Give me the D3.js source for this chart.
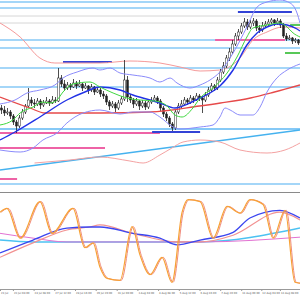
<!DOCTYPE html>
<html>
<head>
<meta charset="utf-8">
<script src="https://cdn.jsdelivr.net/npm/d3@7"></script>
<style>
  body { margin: 0; background: #fff; }
</style>
</head>
<body>
<div id="chart"></div>
<script>
// ---- price data: one row per candle [open, high, low, close] ----
const candles = [
  [1.1842,1.1845,1.1836,1.1840],[1.1840,1.1844,1.1834,1.1837],[1.1837,1.1842,1.1835,1.1838],[1.1838,1.1840,1.1831,1.1834],
  [1.1834,1.1836,1.1825,1.1828],[1.1828,1.1830,1.1817,1.1824],[1.1824,1.1835,1.1822,1.1832],[1.1832,1.1841,1.1830,1.1838],
  [1.1838,1.1846,1.1836,1.1844],[1.1844,1.1862,1.1842,1.1850],[1.1850,1.1853,1.1844,1.1847],[1.1847,1.1851,1.1842,1.1846],
  [1.1846,1.1852,1.1844,1.1849],[1.1849,1.1851,1.1841,1.1845],[1.1845,1.1850,1.1843,1.1847],[1.1847,1.1853,1.1846,1.1849],
  [1.1849,1.1851,1.1844,1.1847],[1.1847,1.1854,1.1846,1.1850],[1.1850,1.1853,1.1847,1.1849],[1.1849,1.1882,1.1848,1.1872],
  [1.1872,1.1875,1.1863,1.1866],[1.1866,1.1870,1.1859,1.1862],[1.1862,1.1868,1.1860,1.1865],[1.1865,1.1867,1.1860,1.1863],
  [1.1863,1.1871,1.1862,1.1867],[1.1867,1.1869,1.1861,1.1864],[1.1864,1.1870,1.1863,1.1866],[1.1866,1.1867,1.1859,1.1862],
  [1.1862,1.1867,1.1861,1.1864],[1.1864,1.1865,1.1856,1.1860],[1.1860,1.1866,1.1858,1.1863],[1.1863,1.1864,1.1855,1.1858],
  [1.1858,1.1863,1.1857,1.1860],[1.1860,1.1862,1.1853,1.1856],[1.1856,1.1859,1.1851,1.1854],[1.1854,1.1856,1.1845,1.1848],
  [1.1848,1.1850,1.1840,1.1844],[1.1844,1.1849,1.1842,1.1846],[1.1846,1.1848,1.1838,1.1842],[1.1842,1.1850,1.1840,1.1847],
  [1.1847,1.1854,1.1845,1.1851],[1.1851,1.1890,1.1849,1.1870],[1.1870,1.1874,1.1848,1.1853],[1.1853,1.1856,1.1847,1.1850],
  [1.1850,1.1852,1.1842,1.1846],[1.1846,1.1852,1.1844,1.1849],[1.1849,1.1850,1.1840,1.1844],[1.1844,1.1850,1.1842,1.1847],
  [1.1847,1.1849,1.1840,1.1843],[1.1843,1.1851,1.1841,1.1848],[1.1848,1.1853,1.1846,1.1850],[1.1850,1.1855,1.1848,1.1852],
  [1.1852,1.1854,1.1846,1.1849],[1.1849,1.1851,1.1839,1.1842],[1.1842,1.1844,1.1833,1.1836],[1.1836,1.1838,1.1829,1.1832],
  [1.1832,1.1834,1.1823,1.1826],[1.1826,1.1828,1.1819,1.1822],[1.1822,1.1840,1.1820,1.1838],[1.1838,1.1847,1.1836,1.1844],
  [1.1844,1.1850,1.1842,1.1846],[1.1846,1.1853,1.1844,1.1850],[1.1850,1.1852,1.1845,1.1848],[1.1848,1.1855,1.1846,1.1852],
  [1.1852,1.1854,1.1847,1.1850],[1.1850,1.1857,1.1849,1.1854],[1.1854,1.1856,1.1849,1.1852],[1.1852,1.1854,1.1837,1.1850],
  [1.1850,1.1858,1.1848,1.1855],[1.1855,1.1863,1.1853,1.1860],[1.1860,1.1867,1.1858,1.1864],[1.1864,1.1866,1.1859,1.1862],
  [1.1862,1.1873,1.1860,1.1870],[1.1870,1.1881,1.1868,1.1878],[1.1878,1.1888,1.1876,1.1884],[1.1884,1.1895,1.1882,1.1892],
  [1.1892,1.1902,1.1889,1.1898],[1.1898,1.1910,1.1896,1.1906],[1.1906,1.1917,1.1904,1.1914],[1.1914,1.1921,1.1910,1.1918],
  [1.1918,1.1927,1.1916,1.1924],[1.1924,1.1932,1.1922,1.1928],[1.1928,1.1931,1.1920,1.1923],[1.1923,1.1930,1.1921,1.1927],
  [1.1927,1.1932,1.1924,1.1929],[1.1929,1.1931,1.1919,1.1922],[1.1922,1.1925,1.1917,1.1920],[1.1920,1.1928,1.1918,1.1924],
  [1.1924,1.1929,1.1922,1.1926],[1.1926,1.1931,1.1923,1.1928],[1.1928,1.1932,1.1926,1.1930],[1.1930,1.1931,1.1924,1.1927],
  [1.1927,1.1932,1.1925,1.1929],[1.1929,1.1931,1.1922,1.1925],[1.1925,1.1927,1.1912,1.1914],[1.1914,1.1917,1.1909,1.1911],
  [1.1911,1.1915,1.1910,1.1912],[1.1912,1.1913,1.1906,1.1909],[1.1909,1.1912,1.1907,1.1910],[1.1910,1.1911,1.1905,1.1907]
];

// time axis labels and the candle index each one starts at
const timeLabels = ["21 Jul","23 Jul 04:00","24 Jul 08:00","27 Jul 12:00","28 Jul 16:00","29 Jul 20:00","31 Jul 00:00",
  "3 Aug 04:00","4 Aug 08:00","5 Aug 12:00","6 Aug 16:00","7 Aug 20:00","11 Aug 00:00","12 Aug 04:00","13 Aug 08:00"];
const labelIdx = [-0.5, 3.8, 10.7, 17.6, 24.5, 31.4, 38.4, 45.3, 52.2, 59.1, 66.0, 72.9, 79.9, 86.6, 92.8];

// horizontal price levels
const blueLevels = [1.1948, 1.1942, 1.1910, 1.1902, 1.1882, 1.1863, 1.1821, 1.1766];
const greyLevels = [1.1934, 1.1927];
// segments: [price, fromIndex, toIndex]
const pinkSegments = [[1.1910, 71.2, 94.5], [1.1817, -0.5, 52.8], [1.1802, -0.5, 34.5], [1.1771, -0.5, 5.2]];
const navySegments = [[1.1938, 78.8, 96.8], [1.1888, 20.5, 36.8], [1.1818, 50.2, 66.2]];
const greenSegments = [[1.1897, 94.5, 99.5], [1.1925, 96.2, 99.5]];

// indicator lines, [candleIndex, price]
const slowRed = [[-0.5,1.1927],[6.2,1.1913],[12.8,1.1892],[17.8,1.1887],[32.8,1.1887],[42.8,1.1889],[52.8,1.1887],
  [59.5,1.1883],[66.2,1.1879],[72.8,1.1880],[79.5,1.1892],[83.8,1.1910],[88.5,1.1918],[93.8,1.1923],[99.5,1.1922]];
const midRed = [[-0.5,1.1853],[9.5,1.1842],[14.5,1.1837],[33,1.1837],[49.5,1.1838],[66,1.1844],[73,1.1847],
  [83,1.1852],[91,1.1858],[99.5,1.1865]];
const lowRed = [[11,1.1787],[22.8,1.1790],[32.8,1.1793],[42.8,1.1789],[47.2,1.1787],[52.8,1.1795],[56.8,1.1802],
  [60.5,1.1808],[66.2,1.1810],[72.8,1.1808],[79.5,1.1800],[88.5,1.1797],[94.5,1.1800],[99.5,1.1807]];
const trendLine = [[-0.5,1.1780],[99.5,1.1820]];
const bandUpper = [[-0.5,1.1846],[4.5,1.1850],[8.5,1.1857],[12.8,1.1860],[17.8,1.1865],[20.5,1.1872],[25.2,1.1878],
  [30.5,1.1882],[32.8,1.1880],[36.2,1.1882],[39.5,1.1877],[43.8,1.1875],[49.5,1.1872],[52.8,1.1868],[56.2,1.1872],
  [58.5,1.1867],[62.8,1.1862],[66.2,1.1865],[69.5,1.1870],[72.8,1.1878],[77.2,1.1897],[81.8,1.1923],[85.2,1.1943],
  [88.5,1.1948],[92.8,1.1950],[96.2,1.1947],[98.5,1.1937],[99.5,1.1927]];
const bandLower = [[-0.5,1.1800],[6.2,1.1798],[10.5,1.1802],[13.8,1.1810],[18.5,1.1817],[21.8,1.1827],[27.2,1.1837],
  [32.8,1.1840],[39.5,1.1836],[43.8,1.1838],[49.5,1.1838],[52.8,1.1833],[57.2,1.1823],[59.5,1.1821],[66.2,1.1823],
  [70.5,1.1825],[72.8,1.1833],[74.5,1.1842],[76.2,1.1840],[79.5,1.1835],[83.8,1.1835],[86.2,1.1843],[88.5,1.1858],
  [91.8,1.1872],[95.2,1.1880],[99.5,1.1886]];
const navyMa = [[-0.5,1.1810],[4.5,1.1818],[12.8,1.1833],[21.8,1.1850],[27.8,1.1858],[32.8,1.1863],[39.5,1.1860],
  [43.8,1.1855],[49.5,1.1850],[52.8,1.1847],[57.8,1.1842],[62.8,1.1847],[66.2,1.1852],[69.5,1.1857],[72.8,1.1864],
  [77.2,1.1880],[81.8,1.1905],[85.2,1.1917],[88.5,1.1923],[91.8,1.1926],[95.2,1.1925],[98.5,1.1921],[99.5,1.1919]];
const greenMa = [[-0.5,1.1825],[3.8,1.1830],[6.2,1.1837],[10.5,1.1843],[13.8,1.1848],[16.2,1.1847],[18.5,1.1850],
  [20.5,1.1858],[23.8,1.1866],[29.5,1.1868],[32.8,1.1863],[37.2,1.1857],[41.8,1.1852],[46.2,1.1850],[51.2,1.1849],
  [55.2,1.1844],[57.8,1.1835],[60.2,1.1833],[63.8,1.1842],[66.2,1.1852],[70.5,1.1862],[75.2,1.1877],[78.5,1.1893],
  [81.8,1.1913],[83.8,1.1922],[88.5,1.1925],[92.8,1.1927],[95.2,1.1923],[97.2,1.1917],[99.5,1.1913]];

// oscillator lines, [candleIndex, value 0-100]
const stoch = [[-0.5,80],[1.8,84],[6.2,53],[12.8,91],[16.8,58],[23.8,84],[27.8,43],[30.5,48],[32.8,23],[35.2,11],
  [39.5,9],[43.5,65],[46.2,35],[49.5,15],[53.5,33],[56.8,7],[60.2,80],[62.2,93],[66.2,91],[70.5,53],[75.2,86],
  [79.5,79],[82.8,93],[87.2,88],[90.5,53],[94.5,82],[97.8,7],[99.5,6]];
const oscBlue = [[-0.5,37.5],[10.5,51],[21.8,63.5],[29.5,64.6],[32.8,64.6],[43.8,58],[52.8,53],[58.5,46],[66.2,51],
  [77.2,59],[82.8,74],[92.8,82],[99.5,74]];
const oscSalmon = [[-0.5,33],[10.5,48],[21.8,61.5],[29.5,64.6],[32.8,66.7],[43.8,58],[58.5,49],[66.2,49],[77.2,56],
  [92.8,80],[99.5,72]];
const oscMagenta = [[-0.5,58],[10.5,53],[21.8,49],[32.8,49],[66.2,49],[99.5,54]];
const oscCyan = [[-0.5,51],[10.5,49],[43.8,49],[66.2,49],[99.5,63.5]];

// ---- layout ----
const width = 300, height = 300;
const mainBottom = 192, oscTop = 193, oscBottom = 289;

const svg = d3.select("#chart").append("svg")
  .attr("width", width).attr("height", height)
  .style("display", "block").style("background", "#fff");

const x = d3.scaleLinear().domain([-0.5, 99.5]).range([0, width]);
const y = d3.scaleLinear().domain([1.1758, 1.1950]).range([mainBottom, 0]);
const yo = d3.scaleLinear().domain([0, 100]).range([oscBottom, oscTop]);

svg.append("clipPath").attr("id", "clipMain")
  .append("rect").attr("x", 0).attr("y", 0).attr("width", width).attr("height", mainBottom);
svg.append("clipPath").attr("id", "clipOsc")
  .append("rect").attr("x", 0).attr("y", oscTop + 1).attr("width", width).attr("height", oscBottom - oscTop - 1);

const main = svg.append("g").attr("clip-path", "url(#clipMain)");
const osc = svg.append("g").attr("clip-path", "url(#clipOsc)");

// horizontal levels
main.selectAll(".grey").data(greyLevels).join("line")
  .attr("x1", 0).attr("x2", width).attr("y1", d => y(d)).attr("y2", d => y(d))
  .attr("stroke", "#d6d6d6").attr("stroke-width", 1);

main.selectAll(".lvl").data(blueLevels).join("line")
  .attr("x1", 0).attr("x2", width).attr("y1", d => y(d)).attr("y2", d => y(d))
  .attr("stroke", "#86c9f6").attr("stroke-width", (d, i) => i === 6 ? 2 : 1.5);

const segment = (data, color) => {
  main.append("g").selectAll("line").data(data).join("line")
    .attr("x1", d => x(d[1])).attr("x2", d => x(d[2]))
    .attr("y1", d => y(d[0])).attr("y2", d => y(d[0]))
    .attr("stroke", color).attr("stroke-width", 2);
};
segment(pinkSegments, "#ee63a6");
segment(navySegments, "#3343d6");
segment(greenSegments, "#58c858");

// lines drawn behind candles
const priceLine = d3.line().x(d => x(d[0])).y(d => y(d[1])).curve(d3.curveMonotoneX);
const drawPrice = (data, color, w) => main.append("path").datum(data)
  .attr("d", priceLine).attr("fill", "none").attr("stroke", color).attr("stroke-width", w);

drawPrice(trendLine, "#45b2ef", 1.5);
drawPrice(lowRed, "#f4a2a2", 1);
drawPrice(slowRed, "#f59a9a", 1);

// candles
const candleG = main.append("g");
candleG.selectAll(".wick").data(candles).join("line")
  .attr("x1", (d, i) => x(i)).attr("x2", (d, i) => x(i))
  .attr("y1", d => y(d[1])).attr("y2", d => y(d[2]))
  .attr("stroke", "#222").attr("stroke-width", 0.8);
candleG.selectAll(".body").data(candles).join("rect")
  .attr("x", (d, i) => x(i) - 1)
  .attr("width", 2)
  .attr("y", d => y(Math.max(d[0], d[3])))
  .attr("height", d => Math.max(0.8, Math.abs(y(d[0]) - y(d[3]))))
  .attr("fill", d => d[3] >= d[0] ? "#fff" : "#222")
  .attr("stroke", "#222").attr("stroke-width", 0.5);

// indicators over candles
drawPrice(midRed, "#e64a4a", 1.3);
drawPrice(bandUpper, "#8b8bfb", 1);
drawPrice(bandLower, "#8b8bfb", 1);
drawPrice(navyMa, "#2232e6", 1.4);
drawPrice(greenMa, "#3fd83f", 1);

// panel separator
svg.append("line").attr("x1", 0).attr("x2", width).attr("y1", oscTop - 0.5).attr("y2", oscTop - 0.5)
  .attr("stroke", "#8a8a8a").attr("stroke-width", 1.2);

// oscillator panel
const oscLine = d3.line().x(d => x(d[0])).y(d => yo(d[1])).curve(d3.curveMonotoneX);
const drawOsc = (data, color, w) => osc.append("path").datum(data)
  .attr("d", oscLine).attr("fill", "none").attr("stroke", color).attr("stroke-width", w);

drawOsc(oscCyan, "#4cc2f2", 1.5);
drawOsc(oscMagenta, "#e272d2", 1);
drawOsc(oscSalmon, "#f29292", 1.2);
drawOsc(oscBlue, "#3b46f0", 1.3);
drawOsc(stoch, "#f08a7c", 1).attr("transform", "translate(1.2,0)");
drawOsc(stoch, "#f7a236", 1.2);

// time axis
const xAxis = d3.axisBottom(x)
  .tickValues(labelIdx)
  .tickFormat((d, i) => timeLabels[i])
  .tickSize(2).tickSizeOuter(0).tickPadding(1);

const gx = svg.append("g").attr("transform", `translate(0,${oscBottom})`).call(xAxis);
gx.select(".domain").attr("stroke", "#9a9a9a");
gx.selectAll(".tick line").attr("stroke", "#9a9a9a");
gx.selectAll(".tick text")
  .attr("text-anchor", "start").attr("dx", 0.5)
  .attr("fill", "#555")
  .style("font-family", "DejaVu Sans, sans-serif").style("font-size", "2.6px");
</script>
</body>
</html>
